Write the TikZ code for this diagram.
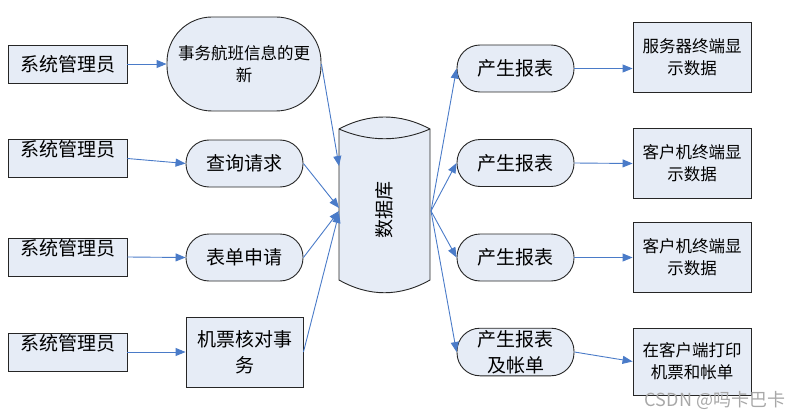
\documentclass[tikz,border=0pt]{standalone}
\usepackage{fontspec}
\newfontfamily\cjk{Noto Sans CJK SC}
\usetikzlibrary{arrows.meta}
\definecolor{fillc}{HTML}{E6ECF6}
\definecolor{arrc}{HTML}{4A7BC8}
\definecolor{wmc}{HTML}{A8A8A8}
\begin{document}
\begin{tikzpicture}[x=1pt,y=-1pt,
 every node/.style={font=\cjk},
 box/.style={draw=black!85, line width=0.9pt, fill=fillc, inner sep=2pt, align=center},
 big/.style={font=\cjk\fontsize{19}{26}\selectfont},
 small/.style={font=\cjk\fontsize{16.5}{22}\selectfont},
 adm/.style={box, big, minimum width=119pt, minimum height=38pt},
 admtop/.style={adm, text height=10pt, text depth=14pt},
 pill/.style={box, big, rounded corners=23pt, minimum width=117pt, minimum height=47pt},
 outbox/.style={box, small, minimum width=118pt, minimum height=70pt},
 arr/.style={draw=arrc, line width=0.9pt, -{Triangle[length=10pt,width=8pt]}}]
\useasboundingbox (0,0) rectangle (808,417);

% left admin boxes
\node[adm]    (a1) at (67.5,64)    {系统管理员};
\node[admtop] (a2) at (67.5,158.5) {系统管理员};
\node[admtop] (a3) at (67.5,257)   {系统管理员};
\node[admtop] (a4) at (67.5,352)   {系统管理员};

% middle nodes
\node[box, small, rounded corners=45pt, minimum width=154pt, minimum height=94pt] (m1) at (244,64) {事务航班信息的更\\新};
\node[pill] (m2) at (244.5,163.5) {查询请求};
\node[pill] (m3) at (244.5,257.5) {表单申请};
\node[box, big, minimum width=117pt, minimum height=70pt] (m4) at (244.5,352) {机票核对事\\务};

% database cylinder
\draw[line width=0.9pt, draw=black!85, fill=fillc]
  (339,129) .. controls (369,113) and (400,113) .. (430,129)
  -- (430,280) .. controls (400,297) and (369,297) .. (339,280) -- cycle;
\draw[line width=0.9pt, draw=black!85]
  (339,129) .. controls (369,142) and (400,142) .. (430,129);
\node[big, rotate=90] (db) at (384,210) {数据库};
\coordinate (dbin1) at (339,166);
\coordinate (dbin2) at (339,208);
\coordinate (dbin3) at (339,211);
\coordinate (dbin4) at (339,213);
\coordinate (dbout) at (431,211);

% right pills
\node[pill] (r1) at (515.5,68.5) {产生报表};
\node[pill] (r2) at (515.5,163)  {产生报表};
\node[pill] (r3) at (515.5,257.5) {产生报表};
\node[pill] (r4) at (515.5,352)  {产生报表\\及帐单};

% right boxes
\node[outbox] (b1) at (692,57)    {服务器终端显\\示数据};
\node[outbox] (b2) at (692,163.5) {客户机终端显\\示数据};
\node[outbox] (b3) at (692,257.5) {客户机终端显\\示数据};
\node[outbox, minimum height=67pt] (b4) at (692,361.5) {在客户端打印\\机票和帐单};

% connectors
\draw[arr] (a1.east) -- (m1.west);
\draw[arr] (a2.east) -- (m2.west);
\draw[arr] (a3.east) -- (m3.west);
\draw[arr] (a4.east) -- (m4.west);
\draw[arr] (m1.east) -- (dbin1);
\draw[arr] (m2.east) -- (dbin2);
\draw[arr] (m3.east) -- (dbin3);
\draw[arr] (m4.east) -- (dbin4);
\draw[arr] (dbout) -- (r1.west);
\draw[arr] (dbout) -- (r2.west);
\draw[arr] (dbout) -- (r3.west);
\draw[arr] (dbout) -- (r4.west);
\draw[arr] (r1.east) -- (b1.west |- r1.east);
\draw[arr] (r2.east) -- (b2.west);
\draw[arr] (r3.east) -- (b3.west);
\draw[arr] (r4.east) -- (b4.west);

% watermark
\node[font=\cjk\fontsize{18}{20}\selectfont, text=wmc] (wm) at (715,400) {CSDN @吗卡巴卡};
\end{tikzpicture}
\end{document}
